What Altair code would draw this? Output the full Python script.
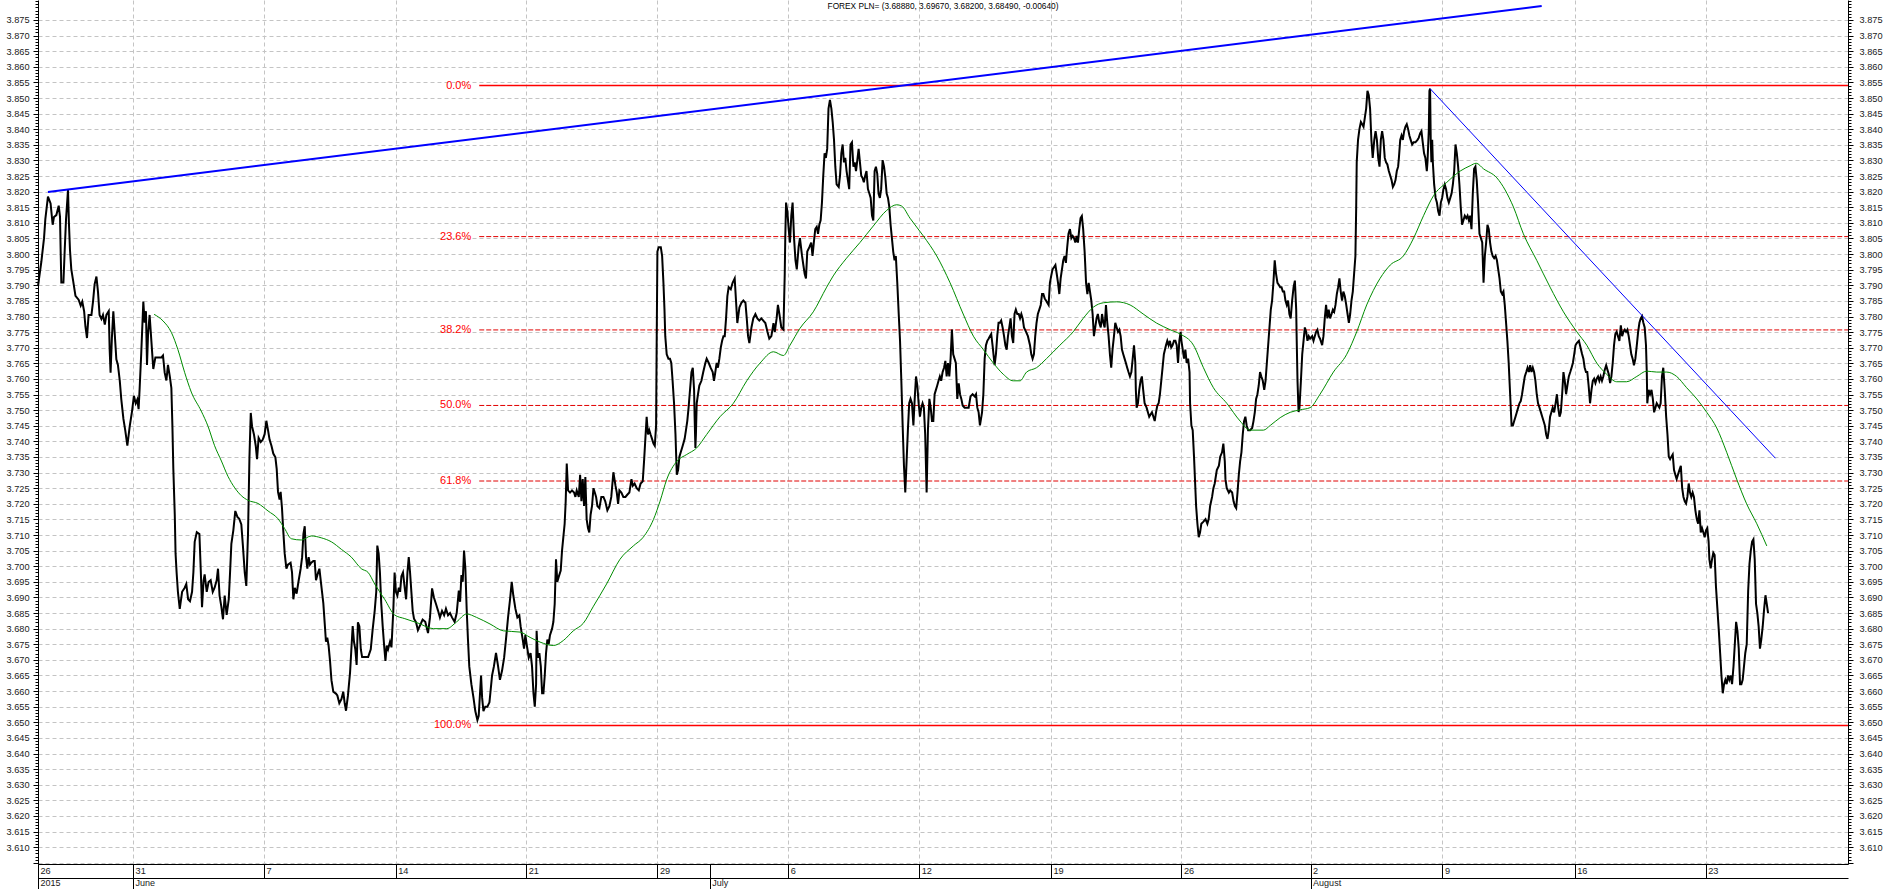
import altair as alt
import pandas as pd

TITLE = "FOREX PLN= (3.68880, 3.69670, 3.68200, 3.68490, -0.00640)"
FONT = "Liberation Sans"

# x positions are trading days counted from 26 May 2015 (weekends removed)
week_days = [0, 3.63, 8.63, 13.65, 18.63, 23.64, 28.63, 33.63, 38.66, 43.64, 48.57, 53.6, 58.65, 63.65]
week_labels = ["26", "31", "7", "14", "21", "29", "6", "12", "19", "26", "2", "9", "16", "23"]
month_days = [0, 3.63, 25.64, 48.57]
month_labels = ["2015", "June", "July", "August"]

X_MAX = 69.08
Y_MIN, Y_MAX = 3.6046, 3.8814

# EUR/PLN hourly close
price_may_jun = [
    (0.00, 3.7897), (0.13, 3.7977), (0.23, 3.8051), (0.28, 3.8112), (0.38, 3.8184), (0.48, 3.8162),
    (0.56, 3.8094), (0.61, 3.8119), (0.70, 3.8125), (0.79, 3.8155), (0.84, 3.8119), (0.865, 3.8008),
    (0.89, 3.7909), (0.97, 3.7909), (1.02, 3.8014), (1.07, 3.8112), (1.145, 3.8205), (1.18, 3.8100),
    (1.22, 3.8014), (1.27, 3.7952), (1.34, 3.7915), (1.43, 3.7866), (1.55, 3.7854), (1.63, 3.7835),
    (1.69, 3.7848), (1.76, 3.7817), (1.81, 3.7768), (1.87, 3.7731), (1.93, 3.7805), (2.04, 3.7805),
    (2.10, 3.7848), (2.16, 3.7903), (2.23, 3.7928), (2.29, 3.7879), (2.35, 3.7805), (2.42, 3.7792),
    (2.48, 3.7805), (2.55, 3.7774), (2.61, 3.7805), (2.70, 3.7817), (2.735, 3.7694), (2.77, 3.7620),
    (2.82, 3.7731), (2.875, 3.7817), (2.93, 3.7743), (2.99, 3.7663), (3.05, 3.7645), (3.12, 3.7595),
    (3.18, 3.7534), (3.26, 3.7472), (3.33, 3.7435), (3.41, 3.7386), (3.50, 3.7448), (3.59, 3.7497),
    (3.66, 3.7546), (3.73, 3.7522), (3.79, 3.7534), (3.84, 3.7503), (3.88, 3.7571), (3.94, 3.7682),
    (4.02, 3.7848), (4.07, 3.7780), (4.12, 3.7817), (4.16, 3.7645), (4.20, 3.7743), (4.26, 3.7805),
    (4.33, 3.7718), (4.40, 3.7632), (4.48, 3.7669), (4.58, 3.7669), (4.71, 3.7669), (4.77, 3.7675),
    (4.835, 3.7620), (4.90, 3.7595), (4.96, 3.7645), (5.03, 3.7608), (5.09, 3.7571), (5.13, 3.7448),
    (5.165, 3.7312), (5.22, 3.7165), (5.25, 3.7041), (5.29, 3.6980), (5.34, 3.6918), (5.41, 3.6863),
    (5.50, 3.6918), (5.60, 3.6931), (5.66, 3.6943), (5.73, 3.6894), (5.80, 3.6888), (5.88, 3.6918),
    (5.93, 3.6980), (5.98, 3.7078), (6.06, 3.7109), (6.16, 3.7103), (6.21, 3.6992), (6.26, 3.6869),
    (6.32, 3.6955), (6.36, 3.6974), (6.44, 3.6918), (6.51, 3.6949), (6.59, 3.6955), (6.67, 3.6918),
    (6.74, 3.6931), (6.82, 3.6955), (6.87, 3.6992), (6.93, 3.6906), (7.00, 3.6869), (7.06, 3.6830),
    (7.125, 3.6906), (7.20, 3.6844), (7.28, 3.6894), (7.33, 3.6980), (7.38, 3.7072), (7.455, 3.7115),
    (7.53, 3.7177), (7.61, 3.7158), (7.68, 3.7152), (7.76, 3.7134), (7.82, 3.7066), (7.89, 3.6980),
    (7.95, 3.6937), (8.015, 3.7103), (8.07, 3.7349), (8.12, 3.7491), (8.17, 3.7448), (8.24, 3.7423),
    (8.31, 3.7386), (8.36, 3.7343), (8.42, 3.7411), (8.50, 3.7398), (8.575, 3.7405), (8.65, 3.7423),
    (8.715, 3.7466), (8.78, 3.7435), (8.84, 3.7405), (8.91, 3.7386), (8.98, 3.7361), (9.06, 3.7349),
    (9.11, 3.7312), (9.16, 3.7238), (9.22, 3.7214), (9.26, 3.7238), (9.31, 3.7189), (9.36, 3.7115),
    (9.415, 3.7041), (9.48, 3.6992), (9.54, 3.7005), (9.64, 3.7011), (9.695, 3.6980), (9.746, 3.6894),
    (9.80, 3.6931), (9.87, 3.6912), (9.95, 3.6955), (10.025, 3.6992), (10.08, 3.7029), (10.13, 3.7103),
    (10.18, 3.7128), (10.23, 3.7029), (10.28, 3.6992), (10.33, 3.7029), (10.38, 3.7005), (10.43, 3.7011),
    (10.51, 3.7017), (10.56, 3.7017), (10.61, 3.6955), (10.69, 3.6980), (10.74, 3.6992), (10.79, 3.6955),
    (10.84, 3.6918), (10.89, 3.6881), (10.94, 3.6820), (10.99, 3.6758), (11.04, 3.6771), (11.09, 3.6746),
    (11.145, 3.6697), (11.20, 3.6635), (11.27, 3.6598), (11.37, 3.6592), (11.425, 3.6586), (11.50, 3.6561),
    (11.58, 3.6574), (11.65, 3.6598), (11.705, 3.6561), (11.756, 3.6537), (11.83, 3.6586), (11.91, 3.6660),
    (11.96, 3.6734), (12.01, 3.6808), (12.06, 3.6758), (12.11, 3.6734), (12.16, 3.6684), (12.21, 3.6820),
    (12.265, 3.6808), (12.32, 3.6734), (12.37, 3.6709), (12.44, 3.6709), (12.60, 3.6709), (12.70, 3.6734),
    (12.77, 3.6795), (12.85, 3.6857), (12.91, 3.6918), (12.95, 3.7066), (13.00, 3.7041), (13.05, 3.6980),
    (13.10, 3.6881), (13.155, 3.6808), (13.21, 3.6746), (13.26, 3.6697), (13.31, 3.6746), (13.36, 3.6734),
    (13.435, 3.6758), (13.49, 3.6740), (13.56, 3.6857), (13.61, 3.6980), (13.66, 3.6918), (13.715, 3.6906),
    (13.77, 3.6931), (13.82, 3.6918), (13.87, 3.6968), (13.93, 3.6980), (13.995, 3.6931), (14.05, 3.6894),
    (14.10, 3.6980), (14.15, 3.7029), (14.20, 3.6980), (14.25, 3.6918), (14.30, 3.6857), (14.35, 3.6832),
    (14.43, 3.6820), (14.50, 3.6795),
]

price_jun_jul = [
    (14.68, 3.6829), (14.78, 3.6822), (14.885, 3.6786), (14.96, 3.6836), (15.04, 3.6929), (15.11, 3.6900),
    (15.19, 3.6879), (15.27, 3.6857), (15.34, 3.6836), (15.42, 3.6857), (15.50, 3.6843), (15.57, 3.6864),
    (15.65, 3.6843), (15.725, 3.6850), (15.80, 3.6836), (15.90, 3.6822), (15.98, 3.6850), (16.06, 3.6922),
    (16.11, 3.6886), (16.16, 3.6972), (16.21, 3.6950), (16.26, 3.7050), (16.31, 3.6993), (16.36, 3.6864),
    (16.41, 3.6765), (16.46, 3.6679), (16.54, 3.6622), (16.62, 3.6579), (16.69, 3.6536), (16.77, 3.6507),
    (16.82, 3.6521), (16.87, 3.6593), (16.91, 3.6650), (16.95, 3.6579), (17.00, 3.6536), (17.07, 3.6550),
    (17.15, 3.6550), (17.23, 3.6564), (17.28, 3.6607), (17.33, 3.6650), (17.40, 3.6679), (17.48, 3.6722),
    (17.56, 3.6679), (17.63, 3.6636), (17.71, 3.6665), (17.79, 3.6707), (17.86, 3.6765), (17.94, 3.6836),
    (18.015, 3.6893), (18.08, 3.6950), (18.14, 3.6907), (18.22, 3.6864), (18.295, 3.6836), (18.37, 3.6843),
    (18.42, 3.6807), (18.50, 3.6765), (18.55, 3.6736), (18.60, 3.6779), (18.65, 3.6750), (18.73, 3.6707),
    (18.80, 3.6722), (18.855, 3.6679), (18.91, 3.6593), (18.96, 3.6550), (19.01, 3.6622), (19.03, 3.6793),
    (19.08, 3.6707), (19.135, 3.6722), (19.19, 3.6679), (19.24, 3.6593), (19.29, 3.6593), (19.34, 3.6650),
    (19.39, 3.6722), (19.44, 3.6765), (19.49, 3.6750), (19.54, 3.6779), (19.62, 3.6800), (19.67, 3.6822),
    (19.72, 3.6879), (19.77, 3.7022), (19.82, 3.6950), (19.87, 3.6965), (19.95, 3.6986), (20.00, 3.7050),
    (20.05, 3.7093), (20.10, 3.7136), (20.14, 3.7208), (20.18, 3.7329), (20.23, 3.7243), (20.305, 3.7236),
    (20.38, 3.7243), (20.46, 3.7236), (20.51, 3.7222), (20.56, 3.7243), (20.64, 3.7222), (20.69, 3.7293),
    (20.74, 3.7208), (20.79, 3.7279), (20.84, 3.7193), (20.89, 3.7286), (20.94, 3.7150), (20.99, 3.7122),
    (21.04, 3.7108), (21.09, 3.7165), (21.145, 3.7193), (21.20, 3.7250), (21.25, 3.7236), (21.30, 3.7222),
    (21.35, 3.7193), (21.425, 3.7186), (21.50, 3.7222), (21.58, 3.7222), (21.65, 3.7208), (21.73, 3.7179),
    (21.81, 3.7193), (21.88, 3.7222), (21.96, 3.7301), (22.04, 3.7258), (22.09, 3.7236), (22.14, 3.7200),
    (22.19, 3.7243), (22.265, 3.7236), (22.34, 3.7222), (22.42, 3.7222), (22.49, 3.7229), (22.57, 3.7236),
    (22.65, 3.7279), (22.70, 3.7258), (22.77, 3.7265), (22.85, 3.7250), (22.93, 3.7243), (23.00, 3.7265),
    (23.08, 3.7272), (23.13, 3.7336), (23.18, 3.7408), (23.23, 3.7479), (23.28, 3.7422), (23.33, 3.7436),
    (23.38, 3.7422), (23.435, 3.7408), (23.49, 3.7393), (23.54, 3.7386), (23.59, 3.7451), (23.61, 3.7694),
    (23.64, 3.8008), (23.69, 3.8022), (23.77, 3.8022), (23.82, 3.7994), (23.87, 3.7908), (23.91, 3.7822),
    (23.94, 3.7737), (23.995, 3.7679), (24.06, 3.7665), (24.12, 3.7665), (24.17, 3.7651), (24.22, 3.7594),
    (24.275, 3.7522), (24.33, 3.7422), (24.38, 3.7293), (24.43, 3.7308), (24.48, 3.7351), (24.53, 3.7365),
    (24.58, 3.7379), (24.63, 3.7393), (24.68, 3.7408), (24.73, 3.7436), (24.78, 3.7465), (24.83, 3.7508),
    (24.885, 3.7565), (24.94, 3.7622), (24.99, 3.7636), (25.04, 3.7565), (25.06, 3.7479), (25.09, 3.7379),
    (25.11, 3.7422), (25.14, 3.7522), (25.19, 3.7551), (25.24, 3.7579), (25.32, 3.7594), (25.39, 3.7622),
    (25.47, 3.7651), (25.52, 3.7665), (25.60, 3.7651), (25.67, 3.7636), (25.75, 3.7622), (25.80, 3.7594),
    (25.85, 3.7622), (25.90, 3.7651), (25.95, 3.7636), (26.005, 3.7665), (26.06, 3.7701), (26.11, 3.7722),
    (26.16, 3.7737), (26.21, 3.7737), (26.26, 3.7794), (26.31, 3.7865), (26.36, 3.7894), (26.44, 3.7887),
    (26.51, 3.7908), (26.59, 3.7922), (26.64, 3.7851), (26.69, 3.7779), (26.77, 3.7829), (26.845, 3.7844),
    (26.92, 3.7851), (27.00, 3.7844), (27.05, 3.7794), (27.10, 3.7737), (27.15, 3.7715), (27.23, 3.7765),
    (27.30, 3.7794), (27.38, 3.7808), (27.455, 3.7794), (27.53, 3.7787), (27.61, 3.7794), (27.68, 3.7787),
    (27.76, 3.7779), (27.84, 3.7751), (27.91, 3.7729), (27.99, 3.7737), (28.07, 3.7779), (28.12, 3.7751),
    (28.19, 3.7794), (28.24, 3.7837), (28.295, 3.7808), (28.37, 3.7765), (28.45, 3.7758), (28.50, 3.7937),
    (28.52, 3.8051), (28.55, 3.8165), (28.60, 3.8137), (28.65, 3.8080), (28.70, 3.8037), (28.75, 3.8123),
    (28.80, 3.8165), (28.855, 3.8051), (28.91, 3.7980), (28.96, 3.7951), (29.03, 3.8023), (29.08, 3.8051),
]

price_jul_aug = [
    (29.16, 3.7994), (29.21, 3.7965), (29.26, 3.7937), (29.31, 3.7922), (29.36, 3.8008), (29.44, 3.8022),
    (29.51, 3.8037), (29.56, 3.7994), (29.61, 3.8037), (29.665, 3.8080), (29.72, 3.8087), (29.77, 3.8065),
    (29.82, 3.8094), (29.87, 3.8108), (29.92, 3.8165), (29.97, 3.8251), (30.02, 3.8323), (30.07, 3.8308),
    (30.12, 3.8337), (30.17, 3.8466), (30.225, 3.8494), (30.28, 3.8466), (30.33, 3.8423), (30.38, 3.8366),
    (30.43, 3.8280), (30.48, 3.8223), (30.56, 3.8215), (30.61, 3.8251), (30.66, 3.8323), (30.71, 3.8351),
    (30.76, 3.8294), (30.81, 3.8308), (30.86, 3.8266), (30.91, 3.8237), (30.96, 3.8208), (31.01, 3.8351),
    (31.065, 3.8358), (31.12, 3.8280), (31.17, 3.8294), (31.22, 3.8266), (31.27, 3.8301), (31.32, 3.8337),
    (31.37, 3.8294), (31.42, 3.8251), (31.47, 3.8244), (31.52, 3.8230), (31.57, 3.8251), (31.62, 3.8266),
    (31.675, 3.8208), (31.73, 3.8194), (31.78, 3.8180), (31.83, 3.8123), (31.88, 3.8108), (31.93, 3.8266),
    (31.98, 3.8280), (32.03, 3.8258), (32.08, 3.8194), (32.13, 3.8180), (32.18, 3.8208), (32.235, 3.8301),
    (32.29, 3.8280), (32.34, 3.8244), (32.39, 3.8194), (32.44, 3.8180), (32.49, 3.8151), (32.54, 3.8094),
    (32.59, 3.8051), (32.64, 3.8008), (32.69, 3.7980), (32.74, 3.7994), (32.795, 3.7908), (32.85, 3.7808),
    (32.90, 3.7722), (32.95, 3.7594), (33.00, 3.7451), (33.05, 3.7322), (33.10, 3.7236), (33.15, 3.7336),
    (33.20, 3.7436), (33.25, 3.7522), (33.30, 3.7536), (33.355, 3.7522), (33.41, 3.7451), (33.46, 3.7536),
    (33.51, 3.7608), (33.56, 3.7579), (33.61, 3.7522), (33.66, 3.7479), (33.71, 3.7508), (33.76, 3.7522),
    (33.81, 3.7508), (33.86, 3.7422), (33.915, 3.7236), (33.965, 3.7436), (34.02, 3.7536), (34.07, 3.7508),
    (34.12, 3.7465), (34.17, 3.7465), (34.22, 3.7551), (34.27, 3.7565), (34.32, 3.7579), (34.37, 3.7594),
    (34.42, 3.7608), (34.47, 3.7594), (34.525, 3.7622), (34.58, 3.7636), (34.63, 3.7658), (34.68, 3.7608),
    (34.73, 3.7651), (34.78, 3.7608), (34.83, 3.7665), (34.88, 3.7758), (34.93, 3.7679), (34.98, 3.7665),
    (35.03, 3.7651), (35.085, 3.7536), (35.14, 3.7586), (35.19, 3.7551), (35.24, 3.7536), (35.29, 3.7515),
    (35.365, 3.7508), (35.44, 3.7508), (35.52, 3.7508), (35.59, 3.7544), (35.67, 3.7551), (35.75, 3.7544),
    (35.80, 3.7551), (35.85, 3.7508), (35.90, 3.7493), (35.95, 3.7451), (36.03, 3.7493), (36.08, 3.7551),
    (36.13, 3.7665), (36.18, 3.7708), (36.23, 3.7722), (36.28, 3.7729), (36.33, 3.7737), (36.38, 3.7744),
    (36.43, 3.7708), (36.51, 3.7644), (36.56, 3.7679), (36.61, 3.7737), (36.66, 3.7780), (36.71, 3.7780),
    (36.76, 3.7787), (36.815, 3.7765), (36.87, 3.7737), (36.92, 3.7708), (36.97, 3.7694), (37.02, 3.7737),
    (37.07, 3.7765), (37.12, 3.7794), (37.17, 3.7737), (37.22, 3.7715), (37.27, 3.7808), (37.32, 3.7822),
    (37.375, 3.7808), (37.43, 3.7808), (37.48, 3.7794), (37.53, 3.7808), (37.58, 3.7794), (37.63, 3.7765),
    (37.71, 3.7751), (37.78, 3.7737), (37.86, 3.7708), (37.91, 3.7679), (37.96, 3.7665), (38.01, 3.7679),
    (38.06, 3.7737), (38.11, 3.7780), (38.16, 3.7808), (38.215, 3.7822), (38.27, 3.7837), (38.32, 3.7872),
    (38.37, 3.7872), (38.42, 3.7858), (38.47, 3.7851), (38.52, 3.7844), (38.57, 3.7837), (38.62, 3.7908),
    (38.67, 3.7930), (38.72, 3.7951), (38.775, 3.7958), (38.83, 3.7965), (38.88, 3.7937), (38.93, 3.7908),
    (38.98, 3.7872), (39.03, 3.7922), (39.08, 3.7951), (39.13, 3.7980), (39.18, 3.7994), (39.23, 3.7972),
    (39.28, 3.8022), (39.33, 3.8065), (39.385, 3.8080), (39.44, 3.8051), (39.49, 3.8058), (39.54, 3.8051),
    (39.59, 3.8037), (39.64, 3.8058), (39.69, 3.8037), (39.74, 3.8080), (39.79, 3.8115), (39.84, 3.8122),
    (39.89, 3.8080), (39.945, 3.8008), (40.00, 3.7908), (40.05, 3.7872), (40.10, 3.7908), (40.15, 3.7880),
    (40.20, 3.7851), (40.25, 3.7808), (40.30, 3.7737), (40.35, 3.7765), (40.40, 3.7794), (40.45, 3.7808),
    (40.505, 3.7780), (40.56, 3.7765), (40.61, 3.7808), (40.66, 3.7780), (40.71, 3.7765), (40.76, 3.7837),
    (40.81, 3.7780), (40.86, 3.7737), (40.91, 3.7679), (40.96, 3.7636), (41.01, 3.7694), (41.065, 3.7737),
    (41.115, 3.7780), (41.17, 3.7765), (41.22, 3.7751), (41.27, 3.7758), (41.32, 3.7737), (41.37, 3.7694),
    (41.42, 3.7679), (41.47, 3.7665), (41.52, 3.7651), (41.57, 3.7636), (41.62, 3.7622), (41.675, 3.7608),
    (41.73, 3.7622), (41.78, 3.7665), (41.83, 3.7708), (41.88, 3.7651), (41.90, 3.7565), (41.93, 3.7508),
    (41.98, 3.7522), (42.03, 3.7565), (42.08, 3.7594), (42.13, 3.7608), (42.18, 3.7565), (42.235, 3.7522),
    (42.31, 3.7508), (42.36, 3.7493), (42.41, 3.7479), (42.46, 3.7486), (42.515, 3.7493), (42.57, 3.7479),
    (42.62, 3.7465), (42.67, 3.7493), (42.72, 3.7515), (42.77, 3.7522), (42.82, 3.7551), (42.87, 3.7594),
    (42.92, 3.7636), (42.97, 3.7679), (43.05, 3.7708), (43.10, 3.7722), (43.15, 3.7708), (43.20, 3.7722),
    (43.25, 3.7701), (43.30, 3.7708), (43.355, 3.7722), (43.41, 3.7722), (43.46, 3.7708), (43.51, 3.7651),
    (43.56, 3.7722), (43.61, 3.7751),
]

price_aug = [
    (43.64, 3.7722), (43.69, 3.7694), (43.74, 3.7665), (43.79, 3.7694), (43.84, 3.7651), (43.895, 3.7665),
    (43.95, 3.7622), (43.97, 3.7522), (44.02, 3.7451), (44.07, 3.7436), (44.12, 3.7351), (44.16, 3.7272),
    (44.20, 3.7193), (44.25, 3.7136), (44.30, 3.7093), (44.35, 3.7108), (44.40, 3.7136), (44.48, 3.7143),
    (44.56, 3.7151), (44.63, 3.7136), (44.68, 3.7151), (44.735, 3.7193), (44.81, 3.7222), (44.86, 3.7250),
    (44.91, 3.7265), (44.99, 3.7308), (45.07, 3.7322), (45.12, 3.7351), (45.19, 3.7365), (45.24, 3.7393),
    (45.295, 3.7336), (45.32, 3.7279), (45.37, 3.7250), (45.45, 3.7236), (45.50, 3.7243), (45.575, 3.7236),
    (45.63, 3.7208), (45.68, 3.7193), (45.73, 3.7186), (45.78, 3.7236), (45.83, 3.7293), (45.88, 3.7336),
    (45.93, 3.7365), (45.98, 3.7422), (46.03, 3.7465), (46.08, 3.7479), (46.13, 3.7451), (46.185, 3.7436),
    (46.26, 3.7436), (46.34, 3.7443), (46.39, 3.7465), (46.44, 3.7493), (46.49, 3.7536), (46.54, 3.7551),
    (46.59, 3.7579), (46.64, 3.7622), (46.69, 3.7608), (46.745, 3.7594), (46.80, 3.7565), (46.85, 3.7594),
    (46.90, 3.7651), (46.95, 3.7708), (47.00, 3.7765), (47.05, 3.7822), (47.10, 3.7851), (47.15, 3.7908),
    (47.20, 3.7980), (47.25, 3.7937), (47.305, 3.7908), (47.36, 3.7901), (47.41, 3.7894), (47.46, 3.7894),
    (47.51, 3.7880), (47.56, 3.7880), (47.61, 3.7851), (47.66, 3.7837), (47.71, 3.7851), (47.76, 3.7808),
    (47.81, 3.7794), (47.865, 3.7851), (47.92, 3.7894), (47.97, 3.7915), (48.02, 3.7822), (48.04, 3.7722),
    (48.07, 3.7594), (48.11, 3.7494), (48.145, 3.7508), (48.20, 3.7594), (48.25, 3.7679), (48.30, 3.7722),
    (48.35, 3.7765), (48.40, 3.7751), (48.45, 3.7722), (48.50, 3.7737), (48.55, 3.7729), (48.63, 3.7737),
    (48.68, 3.7722), (48.73, 3.7737), (48.78, 3.7751), (48.83, 3.7758), (48.88, 3.7737), (48.93, 3.7729),
    (49.01, 3.7708), (49.06, 3.7737), (49.11, 3.7794), (49.16, 3.7837), (49.21, 3.7794), (49.26, 3.7822),
    (49.315, 3.7794), (49.37, 3.7808), (49.42, 3.7822), (49.47, 3.7815), (49.52, 3.7837), (49.57, 3.7872),
    (49.62, 3.7894), (49.67, 3.7922), (49.72, 3.7880), (49.77, 3.7851), (49.82, 3.7880), (49.875, 3.7865),
    (49.93, 3.7837), (49.98, 3.7808), (50.03, 3.7780), (50.08, 3.7808), (50.13, 3.7851), (50.18, 3.7880),
    (50.23, 3.7937), (50.28, 3.7994), (50.31, 3.8151), (50.33, 3.8294), (50.38, 3.8366), (50.435, 3.8401),
    (50.49, 3.8423), (50.54, 3.8416), (50.59, 3.8408), (50.64, 3.8437), (50.69, 3.8466), (50.74, 3.8523),
    (50.79, 3.8509), (50.84, 3.8466), (50.89, 3.8366), (50.94, 3.8308), (51.00, 3.8366), (51.05, 3.8394),
    (51.10, 3.8366), (51.15, 3.8308), (51.20, 3.8280), (51.25, 3.8366), (51.30, 3.8394), (51.35, 3.8366),
    (51.40, 3.8308), (51.45, 3.8294), (51.50, 3.8287), (51.555, 3.8266), (51.61, 3.8251), (51.66, 3.8237),
    (51.71, 3.8215), (51.76, 3.8223), (51.81, 3.8237), (51.86, 3.8266), (51.91, 3.8280), (51.94, 3.8308),
    (51.99, 3.8366), (52.04, 3.8380), (52.09, 3.8366), (52.14, 3.8394), (52.19, 3.8408), (52.24, 3.8416),
    (52.29, 3.8401), (52.34, 3.8380), (52.39, 3.8366), (52.445, 3.8351), (52.50, 3.8358), (52.57, 3.8358),
    (52.65, 3.8366), (52.70, 3.8373), (52.75, 3.8387), (52.80, 3.8394), (52.85, 3.8358), (52.90, 3.8323),
    (52.95, 3.8308), (53.005, 3.8266), (53.03, 3.8294), (53.08, 3.8394), (53.105, 3.8523), (53.13, 3.8530),
    (53.155, 3.8366), (53.18, 3.8294), (53.21, 3.8366), (53.235, 3.8294), (53.285, 3.8223), (53.34, 3.8180),
    (53.39, 3.8165), (53.44, 3.8137), (53.49, 3.8123), (53.54, 3.8165), (53.59, 3.8180), (53.64, 3.8208),
    (53.69, 3.8223), (53.74, 3.8208), (53.79, 3.8180), (53.845, 3.8165), (53.90, 3.8180), (53.95, 3.8194),
    (54.00, 3.8223), (54.05, 3.8266), (54.10, 3.8351), (54.15, 3.8323), (54.20, 3.8280), (54.25, 3.8223),
    (54.30, 3.8151), (54.35, 3.8094), (54.40, 3.8108), (54.455, 3.8123), (54.51, 3.8115), (54.56, 3.8123),
    (54.61, 3.8108), (54.66, 3.8123), (54.71, 3.8080), (54.76, 3.8194), (54.81, 3.8273), (54.86, 3.8280),
    (54.91, 3.8237), (54.96, 3.8165), (55.015, 3.8065), (55.07, 3.8051), (55.12, 3.8037), (55.17, 3.7908),
    (55.22, 3.7994), (55.27, 3.8037), (55.32, 3.8094), (55.37, 3.8080), (55.42, 3.8037), (55.47, 3.8008),
    (55.52, 3.7994), (55.575, 3.7987), (55.63, 3.7994), (55.68, 3.7980), (55.73, 3.7951), (55.78, 3.7922),
    (55.83, 3.7880), (55.88, 3.7872), (55.93, 3.7880), (55.98, 3.7837), (56.03, 3.7780), (56.08, 3.7722),
    (56.13, 3.7651), (56.185, 3.7551), (56.24, 3.7451), (56.29, 3.7451), (56.34, 3.7465), (56.39, 3.7479),
    (56.44, 3.7493), (56.49, 3.7508), (56.54, 3.7522), (56.59, 3.7529), (56.64, 3.7551), (56.69, 3.7579),
    (56.745, 3.7608), (56.80, 3.7622), (56.85, 3.7636), (56.90, 3.7622), (56.95, 3.7644), (57.00, 3.7622),
    (57.05, 3.7636), (57.10, 3.7622), (57.15, 3.7594), (57.20, 3.7551), (57.25, 3.7522), (57.305, 3.7508),
    (57.36, 3.7493), (57.41, 3.7479), (57.46, 3.7465), (57.51, 3.7451), (57.56, 3.7422), (57.61, 3.7408),
    (57.66, 3.7436), (57.71, 3.7479), (57.76, 3.7493), (57.81, 3.7508), (57.865, 3.7493), (57.92, 3.7522),
    (57.97, 3.7551), (58.02, 3.7508), (58.07, 3.7479), (58.12, 3.7493), (58.17, 3.7551), (58.22, 3.7622),
    (58.27, 3.7594), (58.32, 3.7551), (58.37, 3.7579), (58.425, 3.7608), (58.48, 3.7622), (58.53, 3.7636),
    (58.58, 3.7651), (58.63, 3.7679), (58.68, 3.7708), (58.73, 3.7715), (58.81, 3.7722), (58.85, 3.7708),
    (58.93, 3.7680), (58.98, 3.7665), (59.03, 3.7636), (59.08, 3.7622), (59.13, 3.7622), (59.18, 3.7579),
    (59.235, 3.7522), (59.29, 3.7565), (59.34, 3.7594), (59.39, 3.7601), (59.44, 3.7587), (59.49, 3.7601),
    (59.54, 3.7608), (59.59, 3.7594), (59.64, 3.7608), (59.69, 3.7594), (59.74, 3.7608), (59.795, 3.7629),
    (59.85, 3.7644), (59.90, 3.7629), (59.95, 3.7615), (60.00, 3.7587), (60.05, 3.7608), (60.10, 3.7651),
    (60.15, 3.7708), (60.20, 3.7744), (60.25, 3.7751), (60.30, 3.7737), (60.355, 3.7722), (60.41, 3.7772),
    (60.46, 3.7737), (60.51, 3.7751), (60.56, 3.7758), (60.61, 3.7751), (60.66, 3.7758), (60.71, 3.7737),
    (60.76, 3.7708), (60.81, 3.7679), (60.86, 3.7665), (60.91, 3.7644), (60.965, 3.7665), (61.02, 3.7708),
    (61.07, 3.7751), (61.12, 3.7780), (61.17, 3.7794), (61.22, 3.7801), (61.27, 3.7780), (61.32, 3.7765),
    (61.37, 3.7708), (61.40, 3.7622), (61.42, 3.7522), (61.47, 3.7565), (61.525, 3.7551), (61.58, 3.7565),
    (61.63, 3.7537), (61.68, 3.7493), (61.73, 3.7508), (61.78, 3.7522), (61.83, 3.7515), (61.88, 3.7508),
    (61.93, 3.7522), (61.98, 3.7608), (62.03, 3.7636), (62.085, 3.7565), (62.14, 3.7479), (62.19, 3.7422),
    (62.24, 3.7351), (62.29, 3.7343), (62.34, 3.7351), (62.39, 3.7358), (62.44, 3.7308), (62.49, 3.7293),
    (62.54, 3.7279), (62.59, 3.7293), (62.645, 3.7308), (62.70, 3.7322), (62.75, 3.7251), (62.80, 3.7222),
    (62.85, 3.7208), (62.90, 3.7201), (62.95, 3.7222), (63.00, 3.7265), (63.05, 3.7236), (63.10, 3.7222),
    (63.15, 3.7236), (63.20, 3.7222), (63.255, 3.7179), (63.31, 3.7150), (63.36, 3.7136), (63.41, 3.7179),
    (63.46, 3.7108), (63.51, 3.7122), (63.56, 3.7108), (63.61, 3.7093), (63.66, 3.7115), (63.71, 3.7122),
    (63.76, 3.7079), (63.79, 3.7022), (63.84, 3.6993), (63.89, 3.7022), (63.94, 3.7043), (63.99, 3.7036),
    (64.04, 3.6936), (64.095, 3.6864), (64.15, 3.6793), (64.20, 3.6722), (64.25, 3.6650), (64.30, 3.6593),
    (64.35, 3.6622), (64.40, 3.6636), (64.45, 3.6622), (64.50, 3.6650), (64.55, 3.6636), (64.60, 3.6650),
    (64.655, 3.6622), (64.71, 3.6679), (64.76, 3.6750), (64.81, 3.6822), (64.86, 3.6793), (64.91, 3.6736),
    (64.96, 3.6622), (65.01, 3.6622), (65.06, 3.6636), (65.11, 3.6679), (65.16, 3.6722), (65.215, 3.6750),
    (65.27, 3.6922), (65.32, 3.7008), (65.37, 3.7050), (65.42, 3.7079), (65.47, 3.7086), (65.52, 3.7022),
    (65.57, 3.6879), (65.62, 3.6850), (65.67, 3.6807), (65.72, 3.6736), (65.77, 3.6765), (65.825, 3.6807),
    (65.88, 3.6864), (65.93, 3.6907), (65.98, 3.6879), (66.03, 3.6850),
]

# green moving average
ma_points = [
    (4.43, 3.7807), (4.77, 3.7786), (5.09, 3.7749), (5.34, 3.7694), (5.60, 3.7620), (5.85, 3.7558),
    (6.23, 3.7497), (6.49, 3.7448), (6.74, 3.7386), (7.00, 3.7337), (7.25, 3.7288), (7.51, 3.7251),
    (7.76, 3.7226), (8.02, 3.7211), (8.40, 3.7201), (8.78, 3.7177), (9.16, 3.7152), (9.41, 3.7121),
    (9.67, 3.7088), (10.05, 3.7084), (10.43, 3.7097), (10.81, 3.7091), (11.20, 3.7078), (11.58, 3.7054),
    (11.96, 3.7029), (12.34, 3.6992), (12.60, 3.6980), (12.85, 3.6943), (13.23, 3.6894), (13.61, 3.6844),
    (14.00, 3.6832), (14.50, 3.6818), (15.09, 3.6800), (15.60, 3.6800), (15.98, 3.6822), (16.36, 3.6847),
    (16.74, 3.6836), (17.25, 3.6815), (17.76, 3.6793), (18.40, 3.6789), (18.78, 3.6772), (19.16, 3.6757),
    (19.67, 3.6746), (20.05, 3.6762), (20.43, 3.6793), (20.81, 3.6817), (21.20, 3.6872), (21.70, 3.6943),
    (22.21, 3.7022), (22.72, 3.7065), (23.10, 3.7093), (23.49, 3.7150), (23.74, 3.7208), (24.00, 3.7279),
    (24.38, 3.7336), (24.76, 3.7358), (25.14, 3.7379), (25.52, 3.7422), (26.03, 3.7479), (26.54, 3.7522),
    (27.05, 3.7594), (27.56, 3.7651), (28.07, 3.7687), (28.45, 3.7675), (28.70, 3.7708), (29.08, 3.7762),
    (29.59, 3.7815), (30.10, 3.7894), (30.35, 3.7930), (30.86, 3.7987), (31.37, 3.8037), (31.88, 3.8090),
    (32.39, 3.8140), (32.77, 3.8158), (32.96, 3.8154), (33.28, 3.8115), (33.79, 3.8058), (34.30, 3.7994),
    (34.81, 3.7908), (35.31, 3.7808), (35.70, 3.7737), (36.08, 3.7694), (36.46, 3.7651), (36.84, 3.7615),
    (37.22, 3.7594), (37.48, 3.7594), (37.73, 3.7622), (38.11, 3.7636), (38.49, 3.7665), (39.00, 3.7708),
    (39.51, 3.7751), (39.89, 3.7794), (40.28, 3.7830), (40.66, 3.7844), (41.17, 3.7847), (41.68, 3.7837),
    (42.18, 3.7808), (42.69, 3.7779), (43.20, 3.7758), (43.59, 3.7744), (44.10, 3.7708), (44.48, 3.7636),
    (44.86, 3.7572), (45.37, 3.7522), (45.88, 3.7465), (46.26, 3.7436), (46.77, 3.7436), (47.03, 3.7451),
    (47.41, 3.7476), (47.79, 3.7493), (48.17, 3.7501), (48.55, 3.7508), (48.93, 3.7551), (49.44, 3.7622),
    (49.95, 3.7679), (50.33, 3.7751), (50.71, 3.7837), (51.22, 3.7922), (51.61, 3.7965), (52.11, 3.7994),
    (52.50, 3.8051), (52.88, 3.8123), (53.26, 3.8187), (53.77, 3.8230), (54.28, 3.8266), (54.66, 3.8283),
    (54.89, 3.8291), (55.17, 3.8273), (55.68, 3.8244), (56.31, 3.8151), (56.69, 3.8065), (57.20, 3.7980),
    (57.71, 3.7894), (58.22, 3.7815), (58.73, 3.7751), (59.11, 3.7708), (59.49, 3.7651), (59.87, 3.7615),
    (60.25, 3.7591), (60.63, 3.7591), (61.02, 3.7608), (61.40, 3.7625), (61.78, 3.7622), (62.16, 3.7622),
    (62.54, 3.7608), (62.92, 3.7572), (63.31, 3.7536), (63.69, 3.7493), (64.07, 3.7443), (64.45, 3.7365),
    (64.83, 3.7279), (65.21, 3.7200), (65.60, 3.7136), (65.98, 3.7065),
]

# Fibonacci retracement
fib_labels = ["0.0%", "23.6%", "38.2%", "50.0%", "61.8%", "100.0%"]
fib_levels = [3.8540, 3.8056, 3.7757, 3.7515, 3.7273, 3.6490]
fib_solid = [True, False, False, False, False, True]
fib_start = 16.84

# blue trend lines: start day, start rate, end day, end rate
trend_start_day = [0.38, 53.13]
trend_start_rate = [3.8199, 3.8530]
trend_end_day = [57.39, 66.31]
trend_end_rate = [3.8795, 3.7346]

# ---------------------------------------------------------------
def pick_expr(vals, labels):
    expr = "''"
    for v, l in reversed(list(zip(vals, labels))):
        expr = f"abs(datum.value - {v}) < 0.01 ? '{l}' : ({expr})"
    return expr

price_df = pd.DataFrame(price_may_jun + price_jun_jul + price_jul_aug + price_aug, columns=["day", "rate"])
price_df["i"] = range(len(price_df))
ma_df = pd.DataFrame(ma_points, columns=["day", "rate"])
ma_df["i"] = range(len(ma_df))
fib_df = pd.DataFrame({"label": fib_labels, "rate": fib_levels, "solid": fib_solid})
fib_df["start"] = fib_start
fib_df["end"] = X_MAX
trend_df = pd.DataFrame({"d1": trend_start_day, "r1": trend_start_rate,
                         "d2": trend_end_day, "r2": trend_end_rate, "w": [2.0, 1.0]})

major = [round(3.605 + 0.005 * k, 3) for k in range(55)]
minor = [round(3.605 + 0.001 * k, 3) for k in range(277)]

xs = alt.Scale(domain=[0, X_MAX], nice=False, zero=False)
ys = alt.Scale(domain=[Y_MIN, Y_MAX], nice=False, zero=False)

GRID = "#c4c4c4"
common = dict(title=None, labelFont=FONT, labelFontSize=9.2, labelColor="#1a1a1a",
              labelOverlap=False, labelFlush=False, labelBound=False)

ax_week = alt.Axis(orient="bottom", values=week_days, labelExpr=pick_expr(week_days, week_labels),
                   tickSize=14, tickColor="black", domainColor="black", domainWidth=1,
                   labelAlign="left", labelBaseline="top", labelPadding=-12, labelOffset=2,
                   grid=True, gridColor=GRID, gridDash=[4, 3], **common)
ax_month = alt.Axis(orient="bottom", values=month_days, labelExpr=pick_expr(month_days, month_labels),
                    tickSize=26, tickColor="black", domain=False,
                    labelAlign="left", labelBaseline="top", labelPadding=-12, labelOffset=2,
                    grid=False, **{**common, "labelFontSize": 9})
ax_row = alt.Axis(orient="bottom", offset=14, domainColor="black", domainWidth=1, ticks=False,
                  labels=False, grid=False, title=None)

ylab = "datum.value < 3.6075 ? '' : format(datum.value, '.3f')"
ax_y_left = alt.Axis(orient="left", values=major, labelExpr=ylab, tickSize=5, tickColor="black",
                     domainColor="black", labelPadding=4, grid=True, gridColor=GRID, gridDash=[4, 3],
                     **common)
ax_y_left_minor = alt.Axis(orient="left", values=minor, tickSize=3, tickColor="black", labels=False,
                           domain=False, grid=False, title=None)
ax_y_right = alt.Axis(orient="right", values=major, labelExpr=ylab, tickSize=5, tickColor="black",
                      domainColor="black", labelPadding=6, grid=False, **common)
ax_y_right_minor = alt.Axis(orient="right", values=minor, tickSize=3, tickColor="black", labels=False,
                            domain=False, grid=False, title=None)

fib_solid_layer = alt.Chart(fib_df).transform_filter("datum.solid").mark_rule(
    color="#ff0000", strokeWidth=1.5).encode(
    x=alt.X("start:Q", scale=xs, axis=ax_row), x2="end:Q",
    y=alt.Y("rate:Q", scale=ys, axis=ax_y_right))

fib_dash_layer = alt.Chart(fib_df).transform_filter("!datum.solid").mark_rule(
    color="#e00000", strokeWidth=1, strokeDash=[5, 2]).encode(
    x=alt.X("start:Q", scale=xs, axis=None), x2="end:Q",
    y=alt.Y("rate:Q", scale=ys, axis=ax_y_right_minor))

fib_text = alt.Chart(fib_df).mark_text(align="right", baseline="middle", dx=-8, color="#ff0000",
                                       font=FONT, fontSize=11).encode(
    x=alt.X("start:Q", scale=xs, axis=None),
    y=alt.Y("rate:Q", scale=ys, axis=None),
    text="label:N")

price_layer = alt.Chart(price_df).mark_line(color="black", strokeWidth=2, strokeJoin="miter").encode(
    x=alt.X("day:Q", scale=xs, axis=ax_week),
    y=alt.Y("rate:Q", scale=ys, axis=ax_y_left),
    order="i:Q")

ma_layer = alt.Chart(ma_df).mark_line(color="#008c00", strokeWidth=1, interpolate="monotone").encode(
    x=alt.X("day:Q", scale=xs, axis=ax_month),
    y=alt.Y("rate:Q", scale=ys, axis=ax_y_left_minor),
    order="i:Q")

trend_layer = alt.Chart(trend_df).mark_rule(color="#0000ff").encode(
    x=alt.X("d1:Q", scale=xs, axis=None), x2="d2:Q",
    y=alt.Y("r1:Q", scale=ys, axis=None), y2="r2:Q",
    strokeWidth=alt.StrokeWidth("w:Q", scale=None, legend=None))

title_layer = alt.Chart(pd.DataFrame({"t": [TITLE]})).mark_text(
    align="center", baseline="middle", font=FONT, fontSize=8.3, color="black").encode(
    x=alt.value(905), y=alt.value(7), text="t:N")

chart = alt.layer(
    fib_solid_layer, fib_dash_layer, fib_text, price_layer, ma_layer, trend_layer, title_layer
).resolve_axis(x="independent", y="independent").properties(
    width=1810, height=864,
    autosize=alt.AutoSizeParams(type="none"),
    padding={"left": 38, "top": 0, "right": 35, "bottom": 25},
    background="white",
).configure_view(stroke=None)

chart.save("out.html", embed_options={"renderer": "svg", "actions": False})
